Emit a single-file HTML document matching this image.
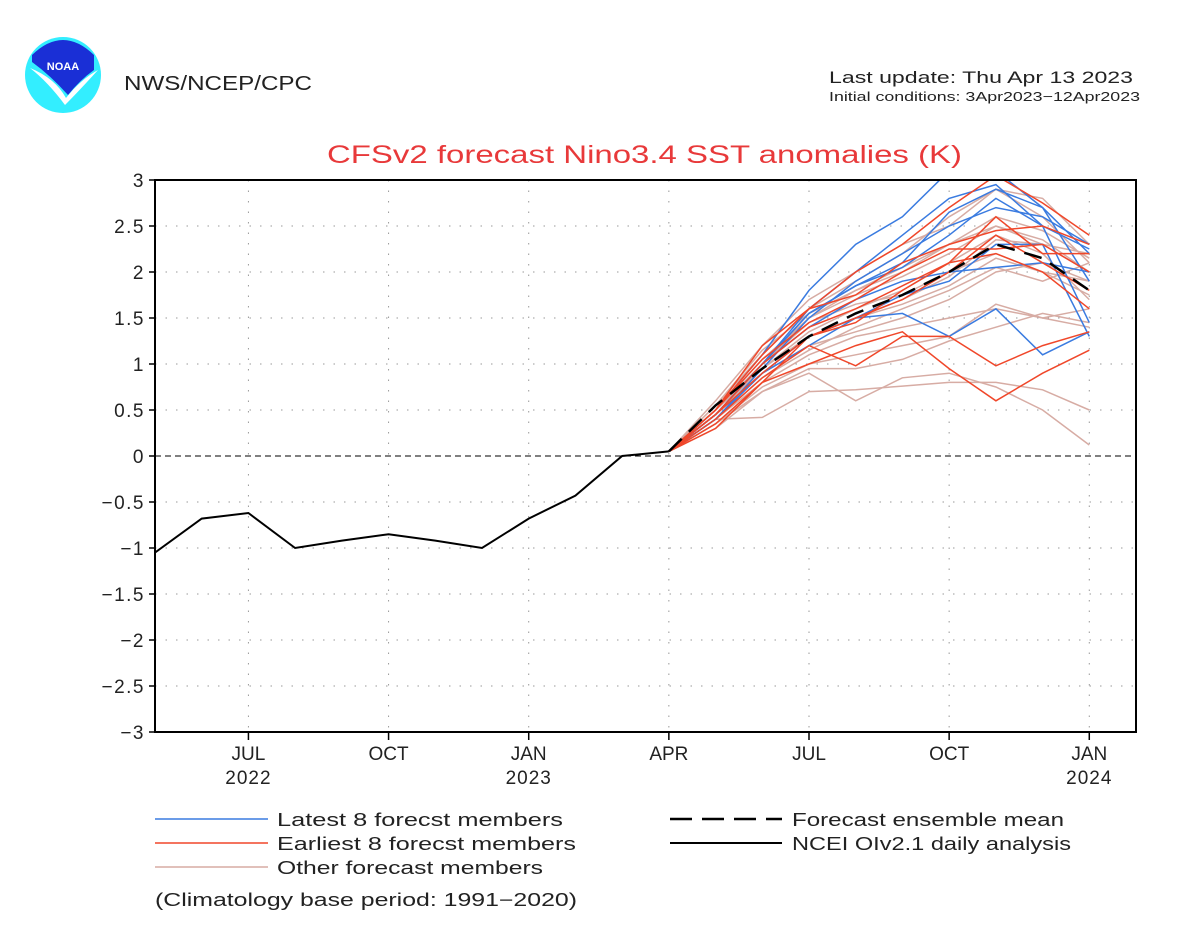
<!DOCTYPE html>
<html><head><meta charset="utf-8">
<style>
body{margin:0;background:#fff;width:1200px;height:939px;overflow:hidden;font-family:"Liberation Sans",sans-serif;}
svg text{font-family:"Liberation Sans",sans-serif;}
</style></head>
<body>
<svg id="chart" width="1200" height="939" viewBox="0 0 1200 939">
<g>
<circle cx="63" cy="75" r="38" fill="#33eeff"/>
<path d="M32,55 Q63,25 94,55 L94,70 Q80,80 68,95 Q50,75 32,62 Z" fill="#1a2fd6"/>
<path d="M30,68 Q55,78 66,98 Q80,80 98,70 Q78,92 65,105 Q48,82 30,68Z" fill="#fff"/>
<text x="63" y="70" font-size="11" font-weight="bold" fill="#fff" text-anchor="middle">NOAA</text>
</g>
<text x="124" y="90" font-size="20" fill="#222" textLength="188" lengthAdjust="spacingAndGlyphs">NWS/NCEP/CPC</text>
<text x="829" y="83" font-size="17" fill="#222" textLength="304" lengthAdjust="spacingAndGlyphs">Last update: Thu Apr 13 2023</text>
<text x="829" y="101" font-size="13" fill="#222" textLength="311" lengthAdjust="spacingAndGlyphs">Initial conditions: 3Apr2023−12Apr2023</text>
<text x="327" y="163" font-size="25" fill="#e8393a" textLength="635" lengthAdjust="spacingAndGlyphs">CFSv2 forecast Nino3.4 SST anomalies (K)</text>
<g id="grid"></g>
<g id="series"></g>
<rect x="155" y="180" width="981" height="552" fill="none" stroke="#000" stroke-width="2"/>
<g id="axes"></g>
<g font-size="18" fill="#222">
<line x1="155" y1="819" x2="268" y2="819" stroke="#3a7be0" stroke-width="1.5"/>
<text x="277" y="826" textLength="286" lengthAdjust="spacingAndGlyphs">Latest 8 forecst members</text>
<line x1="155" y1="843" x2="268" y2="843" stroke="#f0472a" stroke-width="1.5"/>
<text x="277" y="850" textLength="299" lengthAdjust="spacingAndGlyphs">Earliest 8 forecst members</text>
<line x1="155" y1="867" x2="268" y2="867" stroke="#d7aca4" stroke-width="1.5"/>
<text x="277" y="874" textLength="266" lengthAdjust="spacingAndGlyphs">Other forecast members</text>
<line x1="670" y1="819" x2="782" y2="819" stroke="#000" stroke-width="2.5" stroke-dasharray="22,10"/>
<text x="792" y="826" textLength="272" lengthAdjust="spacingAndGlyphs">Forecast ensemble mean</text>
<line x1="670" y1="843" x2="782" y2="843" stroke="#000" stroke-width="2"/>
<text x="792" y="850" textLength="279" lengthAdjust="spacingAndGlyphs">NCEI OIv2.1 daily analysis</text>
<text x="155" y="906" textLength="422" lengthAdjust="spacingAndGlyphs">(Climatology base period: 1991−2020)</text>
</g>
</svg>
<script>
const yTicks=[3,2.5,2,1.5,1,0.5,0,-0.5,-1,-1.5,-2,-2.5,-3];
const monthLabels=["JUL","OCT","JAN","APR","JUL","OCT","JAN"];
const monthIdx=[2,5,8,11,14,17,20];
const yearLabels=["2022","2023","2024"];
const yearIdx=[2,8,20];
const obsMonths=[0,1,2,3,4,5,6,7,8,9,10,11];
const obsValues=[-1.05,-0.68,-0.62,-1.0,-0.92,-0.85,-0.92,-1.0,-0.68,-0.43,0.0,0.05];
const fcMonths=[11,12,13,14,15,16,17,18,19,20];
const meanValues=[0.05,0.55,0.95,1.3,1.55,1.75,2.0,2.3,2.15,1.8];
const latestMembers=[
[0.05,0.5,1.1,1.8,2.3,2.6,3.1,3.2,2.7,2.2],
[0.05,0.45,1.0,1.6,2.0,2.4,2.8,2.95,2.5,1.45],
[0.05,0.4,0.95,1.5,1.9,2.2,2.5,2.7,2.6,2.3],
[0.05,0.45,1.0,1.4,1.7,1.9,2.0,2.05,2.1,2.0],
[0.05,0.4,0.9,1.3,1.5,1.75,1.9,2.3,2.3,1.3],
[0.05,0.4,0.9,1.2,1.5,1.55,1.3,1.6,1.1,1.35],
[0.05,0.45,1.0,1.55,1.85,2.05,2.4,2.8,2.5,2.25],
[0.05,0.45,1.0,1.55,1.85,2.1,2.65,2.9,2.7,1.9]];
const earliestMembers=[
[0.05,0.5,1.1,1.6,2.0,2.3,2.7,3.05,2.75,2.4],
[0.05,0.45,0.9,1.3,1.5,1.7,2.0,2.4,2.1,1.8],
[0.05,0.4,0.85,1.2,0.98,1.3,1.3,0.98,1.2,1.35],
[0.05,0.35,0.8,1.0,1.2,1.35,0.95,0.6,0.9,1.15],
[0.05,0.5,1.05,1.45,1.7,2.0,2.25,2.25,2.3,2.0],
[0.05,0.45,1.0,1.4,1.6,1.85,2.1,2.6,2.2,2.2],
[0.05,0.3,0.8,1.3,1.45,1.8,2.1,2.2,2.0,1.6],
[0.05,0.5,1.2,1.6,1.75,2.1,2.3,2.45,2.5,2.3]];
const otherMembers=[
[0.05,0.4,0.42,0.7,0.72,0.76,0.8,0.8,0.72,0.5],
[0.05,0.35,0.7,0.9,0.6,0.85,0.9,0.75,0.5,0.12],
[0.05,0.45,0.9,1.3,1.5,1.7,1.95,2.35,2.3,2.2],
[0.05,0.5,1.0,1.5,1.8,2.0,2.3,2.5,2.3,2.0],
[0.05,0.4,0.8,1.1,1.3,1.4,1.5,1.6,1.5,1.4],
[0.05,0.55,1.1,1.6,1.9,2.2,2.6,2.9,2.6,2.1],
[0.05,0.45,0.9,1.2,1.35,1.5,1.7,2.0,2.1,1.9],
[0.05,0.6,1.2,1.7,2.0,2.3,2.5,2.9,2.8,2.3],
[0.05,0.35,0.75,1.0,1.1,1.2,1.3,1.65,1.5,1.6],
[0.05,0.5,0.95,1.35,1.6,1.8,2.1,2.4,2.2,1.7],
[0.05,0.45,1.0,1.45,1.65,1.75,2.0,2.2,2.0,1.9],
[0.05,0.4,0.85,1.15,1.4,1.6,1.8,2.05,1.9,2.1],
[0.05,0.5,1.05,1.5,1.75,1.95,2.2,2.5,2.35,2.0],
[0.05,0.3,0.7,0.95,0.95,1.05,1.25,1.4,1.55,1.45],
[0.05,0.55,1.15,1.55,1.8,2.05,2.3,2.6,2.45,2.15],
[0.05,0.45,0.95,1.3,1.5,1.65,1.85,2.15,2.0,1.75]];
const NS="http://www.w3.org/2000/svg";
const X0=155,X1=1136,NM=21,Y0=180,Y1=732;
function xs(m){return X0+(X1-X0)*m/NM;}
function ys(v){return Y0+(3-v)/6*(Y1-Y0);}
function mk(tag,attrs,parent){const e=document.createElementNS(NS,tag);for(const k in attrs)e.setAttribute(k,attrs[k]);parent.appendChild(e);return e;}
const grid=document.getElementById('grid'),axes=document.getElementById('axes'),series=document.getElementById('series');
yTicks.forEach(v=>{
 const y=ys(v);
 if(v===0){const l=mk('line',{x1:X0,x2:X1,y1:y,y2:y,stroke:'#000','stroke-width':1,'stroke-dasharray':'6,4'},grid);
 
 }
 else if(v!==3&&v!==-3){const l=mk('line',{x1:X0,x2:X1,y1:y,y2:y,stroke:'#999','stroke-width':1,'stroke-dasharray':'1.5,9'},grid);
 
 }
 mk('line',{x1:X0-6,x2:X0,y1:y,y2:y,stroke:'#000','stroke-width':1.5},axes);
 const t=mk('text',{x:X0-10,y:y+7,'font-size':19,'text-anchor':'end',fill:'#222','letter-spacing':'1.5'},axes);
 t.textContent=(v<0?'−':'')+Math.abs(v);
 
 
});
monthIdx.forEach((m,i)=>{
 const x=xs(m);
 const g=mk('line',{x1:x,x2:x,y1:Y0,y2:Y1,stroke:'#999','stroke-width':1,'stroke-dasharray':'1.5,9'},grid);
 
 
 mk('line',{x1:x,x2:x,y1:Y1,y2:Y1+8,stroke:'#000','stroke-width':1.5},axes);
 const t=mk('text',{x:x,y:Y1+28,'font-size':19,'text-anchor':'middle',fill:'#222'},axes);
 t.textContent=monthLabels[i];
 
 
});
yearIdx.forEach((m,i)=>{
 const t=mk('text',{x:xs(m),y:Y1+52,'font-size':19,'text-anchor':'middle',fill:'#222','letter-spacing':'1'},axes);
 t.textContent=yearLabels[i];
 
 
});
function pts(ms,vs){return vs.map((v,i)=>xs(ms[i]).toFixed(1)+','+ys(Math.max(-3,Math.min(3.1,v))).toFixed(1)).join(' ');}
const clip=mk('clipPath',{id:'pc'},series);mk('rect',{x:X0,y:Y0,width:X1-X0,height:Y1-Y0},clip);
const sg=mk('g',{'clip-path':'url(#pc)'},series);
otherMembers.forEach(vs=>{const p=mk('polyline',{points:pts(fcMonths,vs),fill:'none',stroke:'#d7aca4','stroke-width':1.5},sg);
 
 });
latestMembers.forEach(vs=>{const p=mk('polyline',{points:pts(fcMonths,vs),fill:'none',stroke:'#3a7be0','stroke-width':1.5},sg);
 
 });
earliestMembers.forEach(vs=>{const p=mk('polyline',{points:pts(fcMonths,vs),fill:'none',stroke:'#f0472a','stroke-width':1.5},sg);
 
 });
const mp=mk('polyline',{points:pts(fcMonths,meanValues),fill:'none',stroke:'#000','stroke-width':2.5,'stroke-dasharray':'18,10'},sg);


const op=mk('polyline',{points:pts(obsMonths,obsValues),fill:'none',stroke:'#000','stroke-width':2},sg);


</script>
</body></html>
